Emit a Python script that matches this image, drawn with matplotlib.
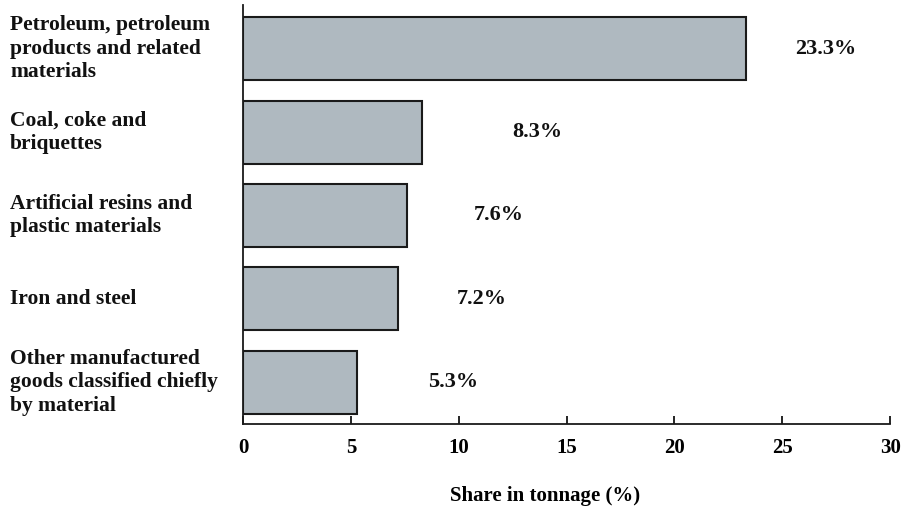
import matplotlib.pyplot as plt
from matplotlib.transforms import blended_transform_factory

categories = [
    "Petroleum, petroleum\nproducts and related\nmaterials",
    "Coal, coke and\nbriquettes",
    "Artificial resins and\nplastic materials",
    "Iron and steel",
    "Other manufactured\ngoods classified chiefly\nby material",
]
shares = [23.3, 8.3, 7.6, 7.2, 5.3]
value_labels = ["23.3%", "8.3%", "7.6%", "7.2%", "5.3%"]
label_x = [25.6, 12.5, 10.7, 9.9, 8.6]  # where the % labels sit, in data units

plt.rcParams["font.family"] = ["Liberation Serif", "DejaVu Serif"]
plt.rcParams["font.weight"] = "bold"

fig = plt.figure(figsize=(9.05, 5.07), dpi=100)
ax = fig.add_axes([0.2685, 0.1637, 0.715, 0.826])

ypos = list(range(len(shares)))
ax.barh(ypos, shares, height=0.755, color="#afb9c0", edgecolor="#1a1a1a", linewidth=1.5)

for y, x, txt in zip(ypos, label_x, value_labels):
    ax.text(x, y, txt, ha="left", va="center", fontsize=16, fontweight="bold", color="#111111")

trans = blended_transform_factory(fig.transFigure, ax.transData)
for y, cat in zip(ypos, categories):
    ax.text(10 / 905, y, cat, transform=trans, ha="left", va="center",
            fontsize=15.5, fontweight="bold", linespacing=1.25, color="#111111")

ax.set_xlim(0, 30)
ax.set_ylim(4.5, -0.52)
ax.set_xticks([0, 5, 10, 15, 20, 25, 30])
ax.set_yticks([])
ax.tick_params(axis="x", direction="in", length=6, width=1.2, labelsize=15, pad=10)
for lbl in ax.get_xticklabels():
    lbl.set_fontweight("bold")

for side in ["top", "right"]:
    ax.spines[side].set_visible(False)
for side in ["left", "bottom"]:
    ax.spines[side].set_linewidth(1.3)
    ax.spines[side].set_color("#1a1a1a")

ax.set_xlabel("Share in tonnage (%)", fontsize=15, fontweight="bold")
ax.xaxis.set_label_coords(0.467, -0.148)
ax.xaxis.label.set_va("top")

fig.savefig("out.png", dpi=100)
